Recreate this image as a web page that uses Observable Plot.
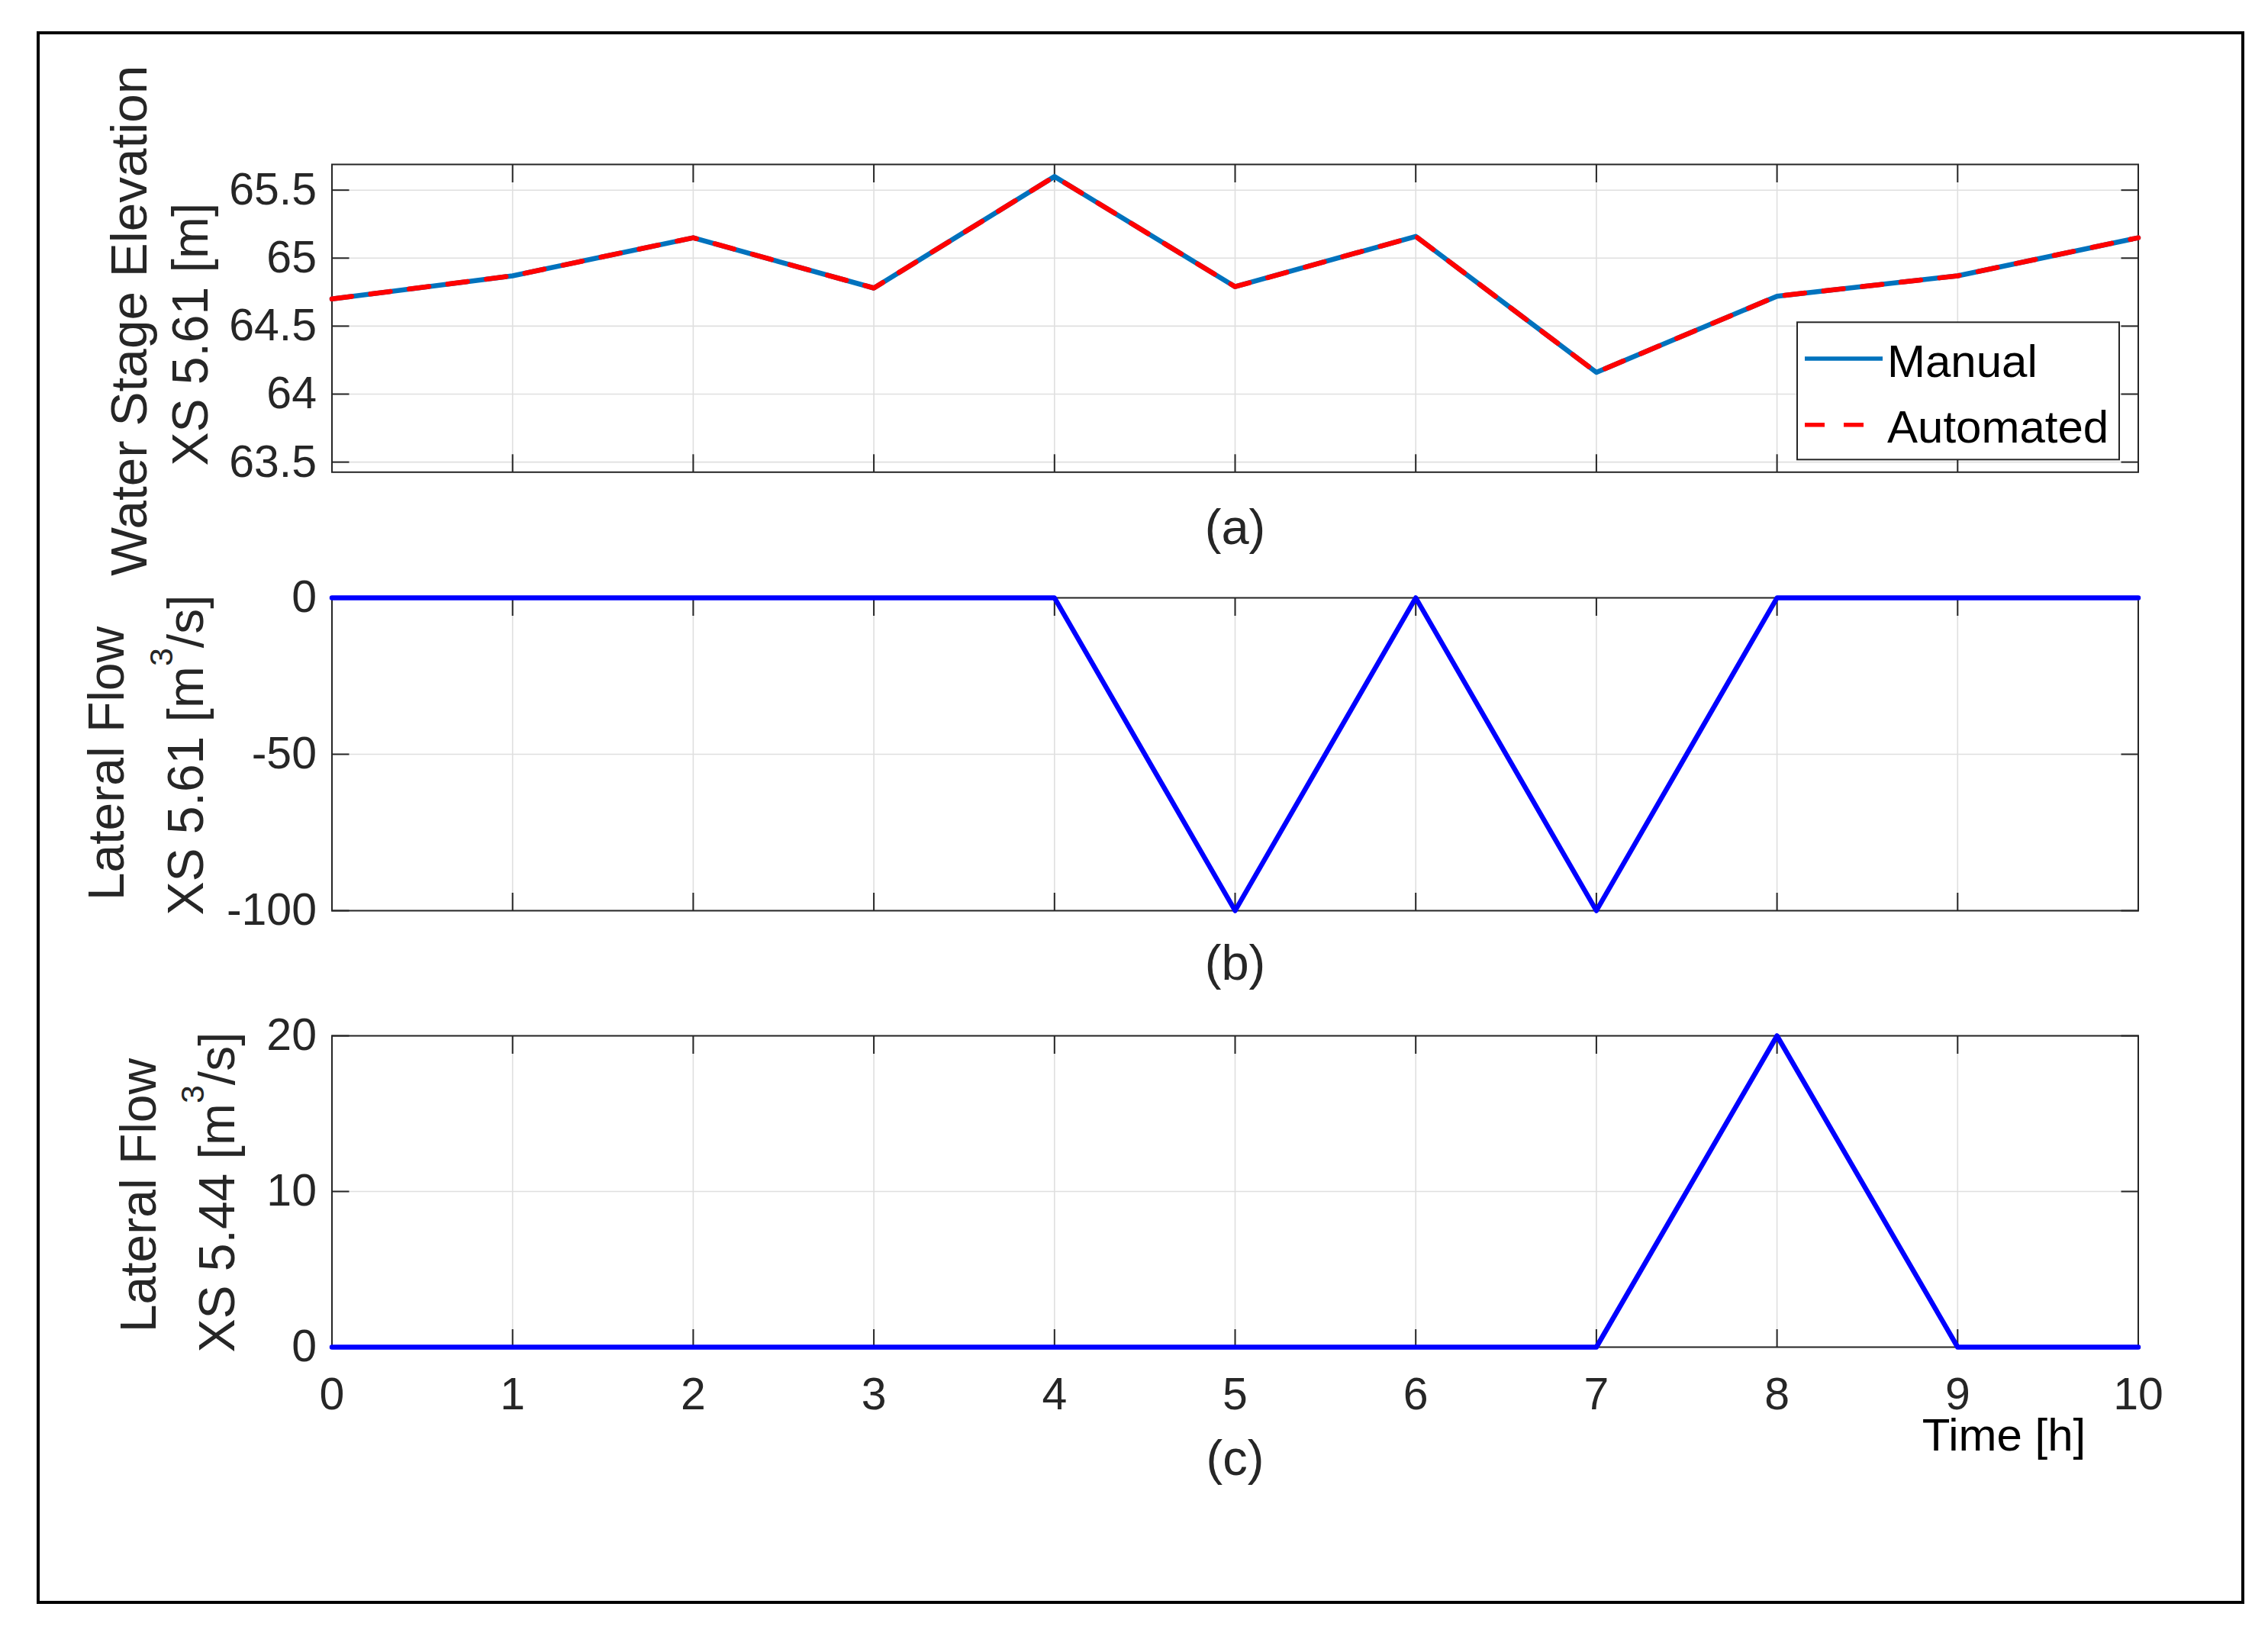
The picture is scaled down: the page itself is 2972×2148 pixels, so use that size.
<!DOCTYPE html>
<html>
<head>
<meta charset="utf-8">
<script src="https://cdn.jsdelivr.net/npm/d3@7"></script>
<script src="https://cdn.jsdelivr.net/npm/@observablehq/plot@0.6"></script>
<style>
  html, body { margin: 0; padding: 0; background: #fff; }
  #fig { position: relative; width: 2972px; height: 2148px; background: #fff; overflow: hidden;
         font-family: "Liberation Sans", Arial, Helvetica, sans-serif; }
  #fig > svg { position: absolute; left: 0; top: 0; }
  #border { position: absolute; left: 48px; top: 41px; width: 2893px; height: 2061px;
            box-sizing: border-box; border: 4px solid #000; }
</style>
</head>
<body>
<div id="fig"><div id="border"></div></div>
<script>
// ---------------- data ----------------
const hours = [0, 1, 2, 3, 4, 5, 6, 7, 8, 9, 10];
const stageManual    = [64.70, 64.87, 65.15, 64.78, 65.60, 64.79, 65.16, 64.16, 64.72, 64.87, 65.15];
const stageAutomated = [64.70, 64.87, 65.15, 64.78, 65.60, 64.79, 65.16, 64.16, 64.72, 64.87, 65.15];
const flowXS561 = [0, 0, 0, 0, 0, -100, 0, -100, 0, 0, 0];
const flowXS544 = [0, 0, 0, 0, 0, 0, 0, 0, 20, 0, 0];

const xTicks = [0, 1, 2, 3, 4, 5, 6, 7, 8, 9, 10];
const stageTicks = [63.5, 64, 64.5, 65, 65.5];
const flow561Ticks = [-100, -50, 0];
const flow544Ticks = [0, 10, 20];
const stageDomain = [63.426, 65.689];
const flow561Domain = [-100, 0];
const flow544Domain = [0, 20];

const seriesNames = ["Manual", "Automated"];
const panelTags = ["(a)", "(b)", "(c)"];
const labelsA = ["Water Stage Elevation", "XS 5.61 [m]"];
const labelsB = ["Lateral Flow", "XS 5.61 [m³/s]"];
const labelsC = ["Lateral Flow", "XS 5.44 [m³/s]"];
const xLabel = "Time [h]";

// ---------------- style ----------------
const W = 2972, H = 2148;
const FRAME_L = 434.5, FRAME_R = 2801.5;
const FONT = '"Liberation Sans", Arial, Helvetica, sans-serif';
const AX = "#262626";
const GRID = "#dfdfdf";
const MANUAL_BLUE = "#0072BD";
const AUTO_RED = "#FF0000";
const FLOW_BLUE = "#0000FF";
const DASH = "26,25";
const LW = 6.5;

function panel({top, bottom, yDomain, yTicks, dataMarks, showX, tag, tagDy, labels, labelDx, labelDy, labelSize = [66, 66], extra = []}) {
  const svg = Plot.plot({
    width: W, height: H,
    marginLeft: FRAME_L, marginRight: W - FRAME_R,
    marginTop: top, marginBottom: H - bottom,
    x: {domain: [0, 10]},
    y: {domain: yDomain},
    style: {fontFamily: FONT, fontSize: "59px", color: AX, background: "transparent", overflow: "visible"},
    marks: [
      Plot.gridX(xTicks, {stroke: GRID, strokeOpacity: 1, strokeWidth: 1.6}),
      Plot.gridY(yTicks, {stroke: GRID, strokeOpacity: 1, strokeWidth: 1.6}),
      Plot.frame({stroke: AX, strokeWidth: 2}),
      Plot.axisY({ticks: yTicks, anchor: "left", tickSize: -23, tickPadding: 43, strokeWidth: 2,
                  tickFormat: d => String(d), label: null, fontSize: 59}),
      Plot.axisY({ticks: yTicks, anchor: "right", tickSize: -23, strokeWidth: 2,
                  tickFormat: () => "", label: null}),
      Plot.axisX({ticks: xTicks, anchor: "top", tickSize: -23, strokeWidth: 2,
                  tickFormat: () => "", label: null}),
      Plot.axisX({ticks: xTicks, anchor: "bottom", tickSize: -23, tickPadding: 63, strokeWidth: 2,
                  tickFormat: showX ? (d => String(d)) : (() => ""), label: null, fontSize: 59}),
      ...dataMarks,
      Plot.text([tag], {frameAnchor: "bottom", dy: tagDy, lineAnchor: "bottom", textAnchor: "middle", fontSize: 65}),
      Plot.text([labels[0]], {frameAnchor: "left", rotate: -90, textAnchor: "middle", lineAnchor: "bottom",
                              dx: labelDx[0], dy: labelDy[0], fontSize: labelSize[0]}),
      Plot.text([labels[1]], {frameAnchor: "left", rotate: -90, textAnchor: "middle", lineAnchor: "bottom",
                              dx: labelDx[1], dy: labelDy[1], fontSize: labelSize[1]}),
      ...extra
    ]
  });
  // render "³" as a raised superscript
  d3.select(svg).selectAll("text").filter(function () { return this.textContent.includes("³"); })
    .each(function () {
      const parts = this.textContent.split("³");
      const sel = d3.select(this);
      sel.text(null);
      sel.append("tspan").text(parts[0]);
      sel.append("tspan").attr("font-size", 43).attr("dy", -40).text("3");
      sel.append("tspan").attr("dy", 40).text(parts[1]);
    });
  return svg;
}

const fig = document.getElementById("fig");

// (a) water stage
fig.appendChild(panel({
  top: 215, bottom: 618.3, yDomain: stageDomain, yTicks: stageTicks, showX: false,
  tag: panelTags[0], tagDy: 94, labels: labelsA, labelDx: [-243.5, -163.5], labelDy: [3, 21], labelSize: [67.5, 66],
  dataMarks: [
    Plot.line(hours, {x: d => d, y: stageManual, stroke: MANUAL_BLUE, strokeWidth: LW}),
    Plot.line(hours, {x: d => d, y: stageAutomated, stroke: AUTO_RED, strokeWidth: LW, strokeDasharray: DASH})
  ]
}));

// (b) lateral flow XS 5.61
fig.appendChild(panel({
  top: 783, bottom: 1193, yDomain: flow561Domain, yTicks: flow561Ticks, showX: false,
  tag: panelTags[1], tagDy: 90, labels: labelsB, labelDx: [-273.5, -169.5], labelDy: [12, 1],
  dataMarks: [
    Plot.line(hours, {x: d => d, y: flowXS561, stroke: FLOW_BLUE, strokeWidth: LW})
  ]
}));

// (c) lateral flow XS 5.44
fig.appendChild(panel({
  top: 1357, bottom: 1765, yDomain: flow544Domain, yTicks: flow544Ticks, showX: true,
  tag: panelTags[2], tagDy: 167, labels: labelsC, labelDx: [-231.5, -128.5], labelDy: [5, 1],
  dataMarks: [
    Plot.line(hours, {x: d => d, y: flowXS544, stroke: FLOW_BLUE, strokeWidth: LW})
  ],
  extra: [
    Plot.text([xLabel], {frameAnchor: "bottom-right", dx: -176, dy: 135, lineAnchor: "bottom",
                         textAnchor: "middle", fontSize: 60, fill: "#000"})
  ]
}));

// legend (inside panel a, lower right)
const leg = d3.select(fig).append("svg")
  .attr("width", 432).attr("height", 190)
  .style("left", "2351px").style("top", "418px")
  .style("font-family", FONT);
leg.append("rect").attr("x", 4).attr("y", 4.3).attr("width", 422).attr("height", 180)
  .attr("fill", "#fff").attr("stroke", AX).attr("stroke-width", 2);
const legendRows = [
  {name: seriesNames[0], color: MANUAL_BLUE, dash: null, y: 52, base: 76.3},
  {name: seriesNames[1], color: AUTO_RED, dash: DASH, y: 138.7, base: 162}
];
legendRows.forEach(r => {
  leg.append("line").attr("x1", 14).attr("x2", 116).attr("y1", r.y).attr("y2", r.y)
    .attr("stroke", r.color).attr("stroke-width", 5.5).attr("stroke-dasharray", r.dash);
  leg.append("text").attr("x", 122).attr("y", r.base).attr("font-size", 60).attr("fill", "#000").text(r.name);
});
</script>
</body>
</html>
